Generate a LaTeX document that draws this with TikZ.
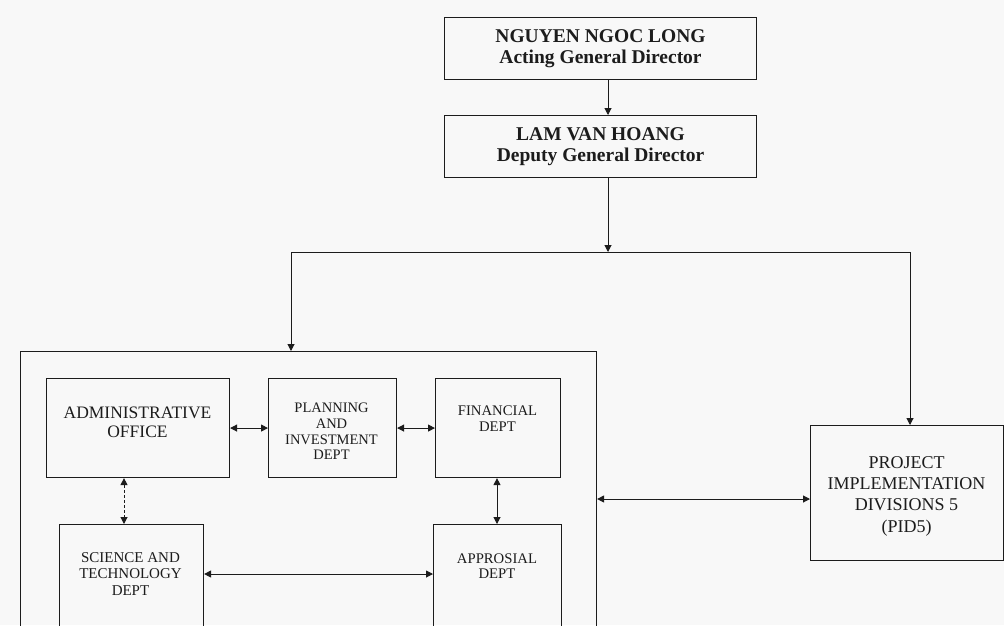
\documentclass[tikz,border=0pt]{standalone}
\usepackage{fontspec}
\setmainfont{Liberation Serif}
\usetikzlibrary{arrows.meta,calc}
\definecolor{paper}{RGB}{248,248,248}
\definecolor{ink}{RGB}{28,28,28}
\tikzset{
  frame/.style={draw=ink, line width=1.1pt, inner sep=0pt, anchor=north west, align=center, text=ink},
  caption/.style={align=center, inner sep=0pt, text=ink},
  link/.style={draw=ink, line width=1pt},
  tip/.style={-{Triangle[length=7pt,width=7pt]}},
  both/.style={{Triangle[length=7pt,width=7pt]}-{Triangle[length=7pt,width=7pt]}},
  headfont/.style={font={\bfseries\fontsize{19.5}{21}\selectfont}},
}
\begin{document}
\begin{tikzpicture}[x=1pt,y=-1pt]
\path[use as bounding box, fill=paper] (0,0) rectangle (1004,625);
\clip (0,0) rectangle (1004,625);

% directors
\node[frame, headfont, minimum width=312pt, minimum height=62pt] (ngl) at (444,17)
  {NGUYEN NGOC LONG\\Acting General Director};
\node[frame, headfont, minimum width=312pt, minimum height=62pt] (lam) at (444,115)
  {LAM VAN HOANG\\Deputy General Director};

% department block and its boxes
\node[frame, minimum width=576pt, minimum height=300pt] (unit) at (20,351) {};
\node[frame, minimum width=183pt, minimum height=99pt] (admin) at (46,378) {};
\node[frame, minimum width=128pt, minimum height=99pt] (plan) at (268,378) {};
\node[frame, minimum width=125pt, minimum height=99pt] (fin) at (435,378) {};
\node[frame, minimum width=144pt, minimum height=110pt] (sci) at (59,524) {};
\node[frame, minimum width=128pt, minimum height=110pt] (appr) at (433,524) {};
\node[frame, minimum width=193pt, minimum height=135pt] (pid) at (810,425) {};

\node[caption, font={\fontsize{17.5}{19}\selectfont}] (admintxt) at (137.5,422)
  {ADMINISTRATIVE\\OFFICE};
\node[caption, font={\fontsize{14.5}{15.7}\selectfont}] (plantxt) at (331.5,431.5)
  {PLANNING\\AND\\INVESTMENT\\DEPT};
\node[caption, font={\fontsize{14.7}{16}\selectfont}] (fintxt) at (497.5,419)
  {FINANCIAL\\DEPT};
\node[caption, font={\fontsize{15}{16.5}\selectfont}] (scitxt) at (130.5,574)
  {SCIENCE AND\\TECHNOLOGY\\DEPT};
\node[caption, font={\fontsize{14.7}{15.5}\selectfont}] (apprtxt) at (497,566)
  {APPROSIAL\\DEPT};
\node[caption, font={\fontsize{18}{21.3}\selectfont}] (pidtxt) at (906.5,496)
  {PROJECT\\IMPLEMENTATION\\DIVISIONS 5\\(PID5)};

% reporting lines
\coordinate (spine) at (608,0);
\coordinate (split) at (608,252);
\coordinate (leftdrop) at (291,252);
\coordinate (rightdrop) at (910,252);
\draw[link, tip] (ngl.south -| spine) -- (lam.north -| spine);
\draw[link, tip] (lam.south -| spine) -- (split);
\draw[link] (leftdrop) -- (rightdrop);
\draw[link, tip] (leftdrop) -- (leftdrop |- unit.north);
\draw[link, tip] (rightdrop) -- (rightdrop |- pid.north);

% links between departments
\coordinate (adminleg) at (124,0);
\coordinate (finleg) at (497,0);
\coordinate (midrow) at (0,574);
\coordinate (pidrow) at (0,499);
\draw[link, both] (admin.east) -- (plan.west);
\draw[link, both] (plan.east) -- (fin.west);
\draw[link, both, dash pattern=on 3pt off 2pt] (admin.south -| adminleg) -- (sci.north -| adminleg);
\draw[link, both] (fin.south -| finleg) -- (appr.north -| finleg);
\draw[link, both] (sci.east |- midrow) -- (appr.west |- midrow);
\draw[link, both] (unit.east |- pidrow) -- (pid.west |- pidrow);
\end{tikzpicture}
\end{document}
